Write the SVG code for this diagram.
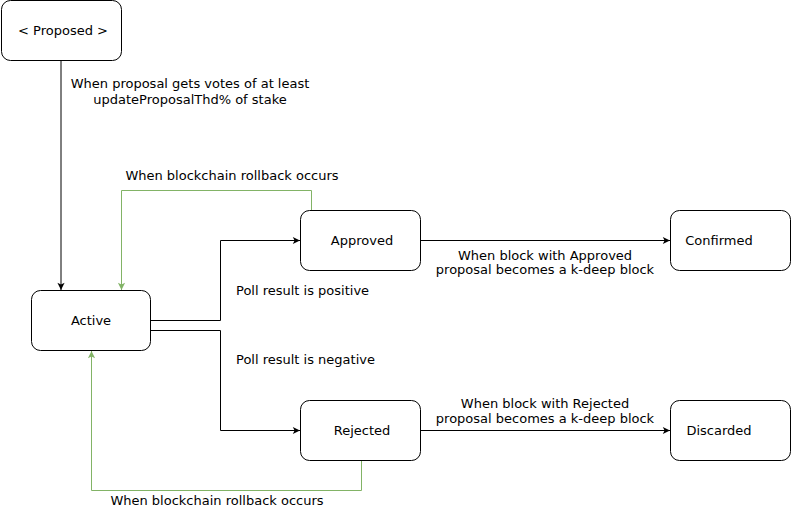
<svg xmlns="http://www.w3.org/2000/svg" width="791" height="511" viewBox="0 0 791 511">
<defs>
<style>
.n{fill:#fff;stroke:#000;stroke-width:1}
.t{font-family:"DejaVu Sans",sans-serif;font-size:13px;fill:#000}
.m{text-anchor:middle}
.e{fill:none;stroke:#000;stroke-width:1}
.g{fill:none;stroke:#82b366;stroke-width:1}
</style>
<marker id="ab" viewBox="0 0 10 10" refX="9" refY="5" markerWidth="9" markerHeight="9" markerUnits="userSpaceOnUse" orient="auto"><path d="M1,1 L9,5 L1,9 L3,5 Z" fill="#000"/></marker>
<marker id="ag" viewBox="0 0 10 10" refX="9" refY="5" markerWidth="9" markerHeight="9" markerUnits="userSpaceOnUse" orient="auto"><path d="M1,1 L9,5 L1,9 L3,5 Z" fill="#82b366"/></marker>
</defs>
<rect width="791" height="511" fill="#fff"/>
<g id="connectors">
<path class="e" d="M61,60.5 V290" marker-end="url(#ab)"/>
<path class="e" d="M151,320.5 H220.5 V240.5 H300" marker-end="url(#ab)"/>
<path class="e" d="M151,330.5 H220.5 V430.5 H300" marker-end="url(#ab)"/>
<path class="e" d="M421,240.5 H670" marker-end="url(#ab)"/>
<path class="e" d="M421,430.5 H670" marker-end="url(#ab)"/>
<path class="g" d="M311.5,210.5 V190.5 H121.5 V290" marker-end="url(#ag)"/>
<path class="g" d="M361.5,460.5 V490.5 H91.5 V351" marker-end="url(#ag)"/>
<text class="t m" x="190" y="88">When proposal gets votes of at least</text>
<text class="t m" x="190" y="104">updateProposalThd% of stake</text>
<text class="t m" x="232" y="180">When blockchain rollback occurs</text>
<text class="t" x="236" y="295">Poll result is positive</text>
<text class="t" x="236" y="364">Poll result is negative</text>
<text class="t m" x="545" y="260">When block with Approved</text>
<text class="t m" x="545" y="274">proposal becomes a k-deep block</text>
<text class="t m" x="545" y="408">When block with Rejected</text>
<text class="t m" x="545" y="423">proposal becomes a k-deep block</text>
<text class="t m" x="217" y="505">When blockchain rollback occurs</text>
</g>
<g id="proposed"><rect class="n" x="1.5" y="0.5" width="120" height="60" rx="9"/><text class="t m" x="63" y="35">&lt; Proposed &gt;</text></g>
<g id="active"><rect class="n" x="31.5" y="290.5" width="119" height="60" rx="9"/><text class="t m" x="91" y="325">Active</text></g>
<g id="approved"><rect class="n" x="300.5" y="210.5" width="120" height="60" rx="9"/><text class="t m" x="362" y="245">Approved</text></g>
<g id="confirmed"><rect class="n" x="670.5" y="210.5" width="120" height="60" rx="9"/><text class="t m" x="719" y="245">Confirmed</text></g>
<g id="rejected"><rect class="n" x="300.5" y="400.5" width="120" height="60" rx="9"/><text class="t m" x="362" y="435">Rejected</text></g>
<g id="discarded"><rect class="n" x="670.5" y="400.5" width="120" height="60" rx="9"/><text class="t m" x="719" y="435">Discarded</text></g>
</svg>
